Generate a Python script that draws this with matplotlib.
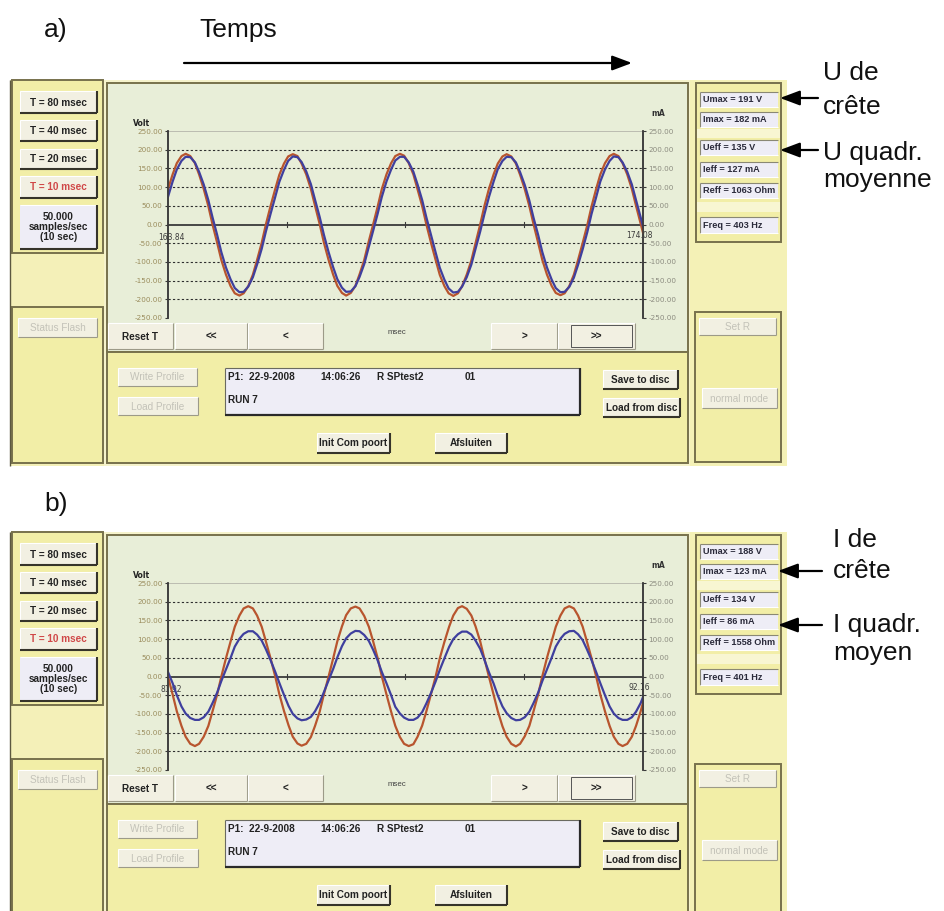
import matplotlib
matplotlib.use("Agg")
import matplotlib.pyplot as plt
from matplotlib.patches import Rectangle
from matplotlib import font_manager

t_a = [163.84, 163.94, 164.03, 164.13, 164.22, 164.32, 164.42, 164.51, 164.61, 164.71,
       164.80, 164.90, 164.99, 165.09, 165.19, 165.28, 165.38, 165.47, 165.57, 165.67,
       165.76, 165.86, 165.95, 166.05, 166.15, 166.24, 166.34, 166.43, 166.53, 166.63,
       166.72, 166.82, 166.92, 167.01, 167.11, 167.20, 167.30, 167.40, 167.49, 167.59,
       167.68, 167.78, 167.88, 167.97, 168.07, 168.16, 168.26, 168.36, 168.45, 168.55,
       168.65, 168.74, 168.84, 168.93, 169.03, 169.13, 169.22, 169.32, 169.41, 169.51,
       169.61, 169.70, 169.80, 169.89, 169.99, 170.09, 170.18, 170.28, 170.38, 170.47,
       170.57, 170.66, 170.76, 170.86, 170.95, 171.05, 171.14, 171.24, 171.34, 171.43,
       171.53, 171.63, 171.72, 171.82, 171.91, 172.01, 172.11, 172.20, 172.30, 172.39,
       172.49, 172.59, 172.68, 172.78, 172.88, 172.97, 173.07, 173.16, 173.26, 173.36,
       173.45, 173.55, 173.64, 173.74, 173.84, 173.93, 174.03, 174.08]
u_a = [95, 134, 164, 183, 189, 183, 164, 134, 95, 49, 0, -49,
       -95, -134, -165, -184, -190, -184, -165, -134, -95, -49, 0, 49,
       94, 133, 163, 182, 188, 183, 163, 134, 95, 50, 1, -48,
       -94, -134, -164, -183, -190, -183, -164, -133, -95, -49, -1, 48,
       95, 134, 164, 183, 189, 184, 164, 134, 94, 49, 0, -49,
       -95, -135, -165, -184, -191, -184, -165, -134, -96, -50, 0, 49,
       96, 134, 163, 182, 188, 182, 163, 133, 95, 49, 1, -49,
       -95, -134, -164, -183, -189, -184, -165, -134, -95, -49, -1, 48,
       95, 134, 164, 183, 189, 183, 164, 134, 95, 50, 2, -22]
i_a = [74, 115, 147, 170, 181, 180, 166, 141, 107, 65, 19, -28,
       -74, -115, -147, -170, -181, -180, -166, -141, -107, -65, -19, 28,
       73, 114, 146, 170, 182, 180, 167, 142, 108, 66, 20, -27,
       -73, -114, -146, -169, -180, -179, -165, -140, -106, -64, -18, 29,
       74, 115, 147, 171, 181, 181, 166, 141, 107, 65, 19, -28,
       -75, -116, -148, -171, -182, -180, -166, -141, -107, -65, -19, 27,
       74, 115, 148, 170, 181, 180, 166, 140, 106, 64, 18, -28,
       -74, -115, -147, -170, -181, -180, -167, -142, -108, -66, -20, 28,
       73, 115, 147, 170, 182, 180, 166, 141, 107, 65, 19, -5]

t_b = [81.92, 82.02, 82.11, 82.21, 82.30, 82.40, 82.50, 82.59, 82.69, 82.79,
       82.88, 82.98, 83.07, 83.17, 83.27, 83.36, 83.46, 83.55, 83.65, 83.75,
       83.84, 83.94, 84.03, 84.13, 84.23, 84.32, 84.42, 84.52, 84.61, 84.71,
       84.80, 84.90, 85.00, 85.09, 85.19, 85.28, 85.38, 85.48, 85.57, 85.67,
       85.76, 85.86, 85.96, 86.05, 86.15, 86.25, 86.34, 86.44, 86.53, 86.63,
       86.73, 86.82, 86.92, 87.01, 87.11, 87.21, 87.30, 87.40, 87.49, 87.59,
       87.69, 87.78, 87.88, 87.98, 88.07, 88.17, 88.26, 88.36, 88.46, 88.55,
       88.65, 88.74, 88.84, 88.94, 89.03, 89.13, 89.22, 89.32, 89.42, 89.51,
       89.61, 89.71, 89.80, 89.90, 89.99, 90.09, 90.19, 90.28, 90.38, 90.47,
       90.57, 90.67, 90.76, 90.86, 90.95, 91.05, 91.15, 91.24, 91.34, 91.44,
       91.53, 91.63, 91.72, 91.82, 91.92, 92.01, 92.11, 92.16]
u_b = [0, -48, -93, -132, -161, -180, -186, -180, -161, -132, -93, -48,
       0, 49, 94, 133, 163, 182, 188, 182, 163, 133, 94, 49,
       1, -47, -92, -131, -161, -179, -185, -180, -162, -132, -94, -48,
       -1, 48, 94, 134, 164, 182, 187, 182, 162, 133, 95, 49,
       0, -48, -94, -132, -162, -180, -186, -181, -161, -131, -93, -47,
       0, 49, 93, 133, 163, 183, 188, 181, 163, 134, 94, 48,
       -1, -49, -93, -133, -161, -180, -187, -180, -160, -132, -93, -48,
       1, 50, 94, 133, 163, 182, 188, 182, 163, 133, 94, 49,
       0, -48, -93, -132, -161, -180, -186, -180, -161, -132, -93, -70]
i_b = [12, -18, -50, -80, -99, -111, -116, -116, -109, -94, -71, -43,
       -12, 19, 50, 80, 101, 114, 121, 121, 112, 96, 73, 44,
       13, -17, -49, -79, -100, -112, -117, -115, -108, -93, -70, -42,
       -11, 20, 51, 81, 102, 115, 122, 121, 111, 95, 72, 43,
       12, -18, -50, -81, -99, -110, -116, -116, -110, -95, -72, -44,
       -13, 18, 49, 79, 100, 113, 120, 120, 112, 96, 74, 45,
       11, -19, -51, -80, -98, -111, -117, -116, -109, -94, -71, -43,
       -12, 19, 50, 80, 101, 114, 121, 122, 113, 97, 73, 44,
       12, -18, -50, -80, -99, -111, -116, -116, -109, -94, -71, -55]

x_ends_a = ["163.84", "174.08"]
x_ends_b = ["81.92", "92.16"]
y_ticks = [250, 200, 150, 100, 50, 0, -50, -100, -150, -200, -250]

mesures_a = ["Umax = 191 V", "Imax = 182 mA", "Ueff = 135 V", "Ieff = 127 mA",
             "Reff = 1063 Ohm", "Freq = 403 Hz"]
mesures_b = ["Umax = 188 V", "Imax = 123 mA", "Ueff = 134 V", "Ieff = 86 mA",
             "Reff = 1558 Ohm", "Freq = 401 Hz"]
boutons_t = ["T = 80 msec", "T = 40 msec", "T = 20 msec", "T = 10 msec"]
info_ligne1 = ["P1:  22-9-2008", "14:06:26", "R SPtest2", "01"]
info_ligne2 = "RUN 7"

W, H = 945, 911
fig = plt.figure(figsize=(W / 100, H / 100), dpi=100)
bg = fig.add_axes([0, 0, 1, 1])
bg.set_xlim(0, W)
bg.set_ylim(H, 0)
bg.axis("off")

noms = {f.name for f in font_manager.fontManager.ttflist}
if "Liberation Sans Narrow" in noms:
    GUI_FONT, GUI_SIZE = "Liberation Sans Narrow", 8.4
else:
    GUI_FONT, GUI_SIZE = "Liberation Sans", 7.2
ANNOT_FONT = ["Liberation Sans", "DejaVu Sans"]

BORD = "#77714c"
JAUNE = "#f2eea7"
VERT = "#e8eed8"
CREME = "#f6f3cc"
LAVANDE = "#eeedf6"
ROUGE = "#b8552e"
BLEU = "#3f3f9e"


def rect(x0, y0, x1, y1, fc, ec="none", lw=0, z=1):
    p = Rectangle((x0, y0), x1 - x0, y1 - y0, facecolor=fc, edgecolor=ec,
                  linewidth=lw, zorder=z)
    bg.add_patch(p)
    return p


def trait(xs, ys, c, lw, z=5, ls="-"):
    bg.plot(xs, ys, color=c, lw=lw, zorder=z, ls=ls, solid_capstyle="butt")


def gui_text(x, y, s, color="#222222", size=None, ha="center", weight="bold", z=7):
    return bg.text(x, y, s, ha=ha, va="center", fontsize=size or GUI_SIZE,
                   family=GUI_FONT, weight=weight, color=color, zorder=z)


def bouton(x0, y0, x1, y1, label, color="#222222", actif=True, plat=False):
    rect(x0, y0, x1, y1, "#f2f0e2", z=4)
    trait([x0, x1], [y0, y0], "#ffffff", 0.8)
    trait([x0, x0], [y0, y1], "#ffffff", 0.8)
    ombre = "#9c9a88" if (plat or not actif) else "#36342a"
    lw = 0.8 if (plat or not actif) else 1.5
    trait([x0, x1], [y1, y1], ombre, lw)
    trait([x1, x1], [y0, y1], ombre, lw)
    if not actif:
        color = "#c3c2b8"
    gui_text((x0 + x1) / 2, (y0 + y1) / 2 + 0.5, label, color=color,
             weight="bold" if actif else "normal")


def case(x0, y0, x1, y1):
    p = rect(x0, y0, x1, y1, LAVANDE, z=4)
    trait([x0, x1], [y0, y0], "#8a8874", 0.8)
    trait([x0, x0], [y0, y1], "#8a8874", 0.8)
    trait([x0, x1], [y1, y1], "#ffffff", 0.8)
    return p


def scope(oy, t, u, i, x_ends):
    ax = fig.add_axes([168 / W, 1 - (318 + oy) / H, 475 / W, 187 / H])
    ax.set_facecolor("none")
    x0, x1 = float(x_ends[0]), float(x_ends[1])
    ax.set_xlim(x0, x1)
    ax.set_ylim(-250, 250)
    for v in y_ticks:
        if v == 0:
            ax.axhline(v, color="#3a3a3a", lw=1.3, zorder=2)
        elif abs(v) == 250:
            ax.axhline(v, color="#b4b4aa", lw=0.6, zorder=1)
        else:
            ax.axhline(v, color="#2e2e2e", lw=0.8, ls=(0, (2, 2)), zorder=1)
    for f in (0.25, 0.5, 0.75):
        xt = x0 + f * (x1 - x0)
        ax.plot([xt, xt], [-7, 7], color="#3a3a3a", lw=0.8, zorder=2)
    ax.plot(t, u, color=ROUGE, lw=1.6, zorder=3, solid_joinstyle="round")
    ax.plot(t, i, color=BLEU, lw=1.6, zorder=4, solid_joinstyle="round")
    ax2 = ax.twinx()
    ax2.set_ylim(-250, 250)
    for a, col in ((ax, "#9a8c5c"), (ax2, "#8c8c80")):
        a.set_yticks(y_ticks)
        a.set_yticklabels([f"{v:.2f}" for v in y_ticks])
        a.tick_params(axis="y", length=2.5, width=0.8, color="#3a3a3a",
                      labelcolor=col, labelsize=5.2, pad=1.5)
        for s in ("top", "bottom"):
            a.spines[s].set_visible(False)
        for s in ("left", "right"):
            a.spines[s].set_color("#3a3a3a")
            a.spines[s].set_linewidth(1.1)
    ax.set_xticks([])
    ax2.set_xticks([])
    ax.annotate(x_ends[0], xy=(x0, 0), xytext=(3, -13), textcoords="offset pixels",
                ha="center", va="center", fontsize=5.5, color="#3c3c3c")
    ax.annotate(x_ends[1], xy=(x1, 0), xytext=(-4, -11), textcoords="offset pixels",
                ha="center", va="center", fontsize=5.5, color="#3c3c3c")


def panneau(oy, t, u, i, x_ends, mesures):
    # fond de la fenetre
    rect(10, 80 + oy, 787, 466 + oy, CREME, z=0)
    rect(11, 80 + oy, 104, 466 + oy, "#f4f0b8", z=0.5)
    trait([10, 10], [80 + oy, 466 + oy], "#5c5840", 1.0)
    rect(690, 80 + oy, 787, 466 + oy, "#f4f1b6", z=0.5)
    # colonne de gauche
    rect(12, 80 + oy, 103, 253 + oy, JAUNE, BORD, 1.4, z=2)
    rect(12, 307 + oy, 103, 463 + oy, JAUNE, BORD, 1.4, z=2)
    for k, (ya, yb) in enumerate([(91, 113), (120, 141), (149, 169), (176, 198)]):
        col = "#d04848" if k == 3 else "#222222"
        bouton(20, ya + oy, 97, yb + oy, boutons_t[k], color=col)
    rect(20, 205 + oy, 97, 249 + oy, LAVANDE, z=4)
    trait([20, 97], [205 + oy, 205 + oy], "#ffffff", 0.8)
    trait([97, 97], [205 + oy, 249 + oy], "#36342a", 1.5)
    trait([20, 97], [249 + oy, 249 + oy], "#36342a", 1.5)
    bg.text(58.5, 227 + oy, "50.000\nsamples/sec\n(10 sec)", ha="center", va="center",
            fontsize=GUI_SIZE, family=GUI_FONT, weight="bold", color="#222222",
            linespacing=1.0, zorder=7)
    bouton(18, 318 + oy, 97, 337 + oy, "Status Flash", actif=False)
    # panneau central
    rect(107, 83 + oy, 688, 352 + oy, VERT, BORD, 1.4, z=2)
    rect(107, 352 + oy, 688, 463 + oy, JAUNE, BORD, 1.4, z=2)
    bg.text(133, 123 + oy, "Volt", ha="left", va="center", fontsize=5.5,
            weight="bold", color="#222222", zorder=7)
    bg.text(658, 113 + oy, "mA", ha="center", va="center", fontsize=5.5,
            weight="bold", color="#333333", zorder=7)
    bouton(108, 323 + oy, 173, 349 + oy, "Reset T", plat=True)
    bouton(175, 323 + oy, 247, 349 + oy, "<<", plat=True)
    bouton(248, 323 + oy, 323, 349 + oy, "<", plat=True)
    bouton(491, 323 + oy, 557, 349 + oy, ">", plat=True)
    bouton(558, 323 + oy, 635, 349 + oy, ">>", plat=True)
    rect(571, 325 + oy, 632, 347 + oy, "none", "#555555", 0.7, z=6)
    gui_text(397, 333 + oy, "msec", color="#444444", size=GUI_SIZE - 1.5, weight="normal")
    bouton(118, 368 + oy, 197, 386 + oy, "Write Profile", actif=False)
    bouton(118, 397 + oy, 198, 415 + oy, "Load Profile", actif=False)
    rect(225, 368 + oy, 580, 415 + oy, LAVANDE, z=4)
    trait([225, 580], [368 + oy, 368 + oy], "#6a6a60", 0.8)
    trait([225, 225], [368 + oy, 415 + oy], "#6a6a60", 0.8)
    trait([225, 580], [415 + oy, 415 + oy], "#2a2a2a", 1.6)
    trait([580, 580], [368 + oy, 415 + oy], "#2a2a2a", 1.6)
    for s, x in zip(info_ligne1, [228, 320, 377, 465]):
        gui_text(x, 377 + oy, s, ha="left")
    gui_text(228, 400 + oy, info_ligne2, ha="left")
    bouton(603, 370 + oy, 678, 389 + oy, "Save to disc")
    bouton(603, 398 + oy, 680, 417 + oy, "Load from disc")
    bouton(317, 433 + oy, 390, 453 + oy, "Init Com poort")
    bouton(435, 433 + oy, 507, 453 + oy, "Afsluiten")
    # colonne de droite
    rect(696, 83 + oy, 781, 242 + oy, JAUNE, BORD, 1.4, z=2)
    rect(697, 129 + oy, 780, 138 + oy, "#f8f6d2", z=3)
    rect(697, 202 + oy, 780, 212 + oy, "#f8f6d2", z=3)
    for s, (ya, yb) in zip(mesures, [(92, 107), (112, 127), (140, 155), (162, 177),
                                     (183, 198), (217, 233)]):
        p = case(700, ya + oy, 778, yb + oy)
        txt = gui_text(703, (ya + yb) / 2 + oy, s, ha="left", color="#2a2a3a",
                       size=GUI_SIZE - 0.6)
        txt.set_clip_path(p)
    rect(695, 312 + oy, 781, 462 + oy, JAUNE, BORD, 1.4, z=2)
    bouton(699, 318 + oy, 776, 335 + oy, "Set R", actif=False)
    bouton(702, 388 + oy, 777, 408 + oy, "normal mode", actif=False)
    scope(oy, t, u, i, x_ends)


panneau(0, t_a, u_a, i_a, x_ends_a, mesures_a)
panneau(452, t_b, u_b, i_b, x_ends_b, mesures_b)


# annotations autour des captures
def fleche(x_queue, x_tete, y):
    bg.annotate("", xy=(x_tete, y), xytext=(x_queue, y),
                arrowprops=dict(arrowstyle="-|>,head_length=0.8,head_width=0.3",
                                color="black", lw=1.6, mutation_scale=15,
                                shrinkA=0, shrinkB=0), zorder=8)


def legende(x, y, s):
    bg.text(x, y, s, ha="left", va="baseline", fontsize=19, family=ANNOT_FONT,
            color="#111111", zorder=8)


legende(44, 37, "a)")
legende(199, 37, "Temps")
fleche(184, 632, 63)
legende(44, 511, "b)")

legende(823, 80, "U de")
legende(823, 114, "crête")
fleche(818, 780, 98)
legende(823, 160, "U quadr.")
legende(823, 187, "moyenne")
fleche(818, 780, 150)

legende(833, 547, "I de")
legende(833, 578, "crête")
fleche(822, 778, 571)
legende(833, 632, "I quadr.")
legende(833, 660, "moyen")
fleche(822, 778, 625)

plt.savefig("out.png", dpi=100)
